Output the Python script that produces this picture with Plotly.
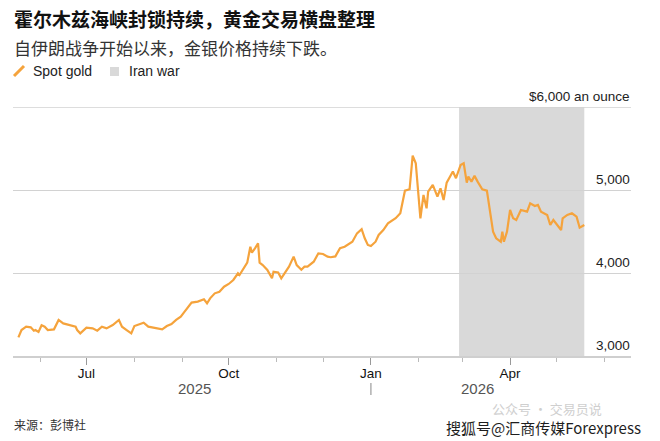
import plotly.graph_objects as go

# ---------------- data ----------------
dates = [
    "2025-05-18", "2025-05-20", "2025-05-23", "2025-05-26", "2025-05-28", "2025-05-29", "2025-05-31",
    "2025-06-02", "2025-06-04", "2025-06-06", "2025-06-10", "2025-06-13", "2025-06-16", "2025-06-20",
    "2025-06-24", "2025-06-25", "2025-06-27", "2025-07-01", "2025-07-05", "2025-07-08", "2025-07-11",
    "2025-07-14", "2025-07-18", "2025-07-22", "2025-07-24", "2025-07-27", "2025-07-30", "2025-08-01",
    "2025-08-05", "2025-08-07", "2025-08-10", "2025-08-13", "2025-08-16", "2025-08-19", "2025-08-22",
    "2025-08-25", "2025-08-28", "2025-08-31", "2025-09-02", "2025-09-04", "2025-09-07", "2025-09-11",
    "2025-09-15", "2025-09-17", "2025-09-19", "2025-09-22", "2025-09-25", "2025-09-28", "2025-10-01",
    "2025-10-04", "2025-10-07", "2025-10-08", "2025-10-10", "2025-10-13", "2025-10-15", "2025-10-16",
    "2025-10-18", "2025-10-20", "2025-10-21", "2025-10-23", "2025-10-26", "2025-10-29", "2025-10-30",
    "2025-11-02", "2025-11-04", "2025-11-06", "2025-11-09", "2025-11-12", "2025-11-14", "2025-11-17",
    "2025-11-19", "2025-11-21", "2025-11-25", "2025-11-28", "2025-12-01", "2025-12-04", "2025-12-06",
    "2025-12-09", "2025-12-12", "2025-12-15", "2025-12-17", "2025-12-20", "2025-12-23", "2025-12-26",
    "2025-12-28", "2025-12-30", "2026-01-01", "2026-01-04", "2026-01-06", "2026-01-09", "2026-01-12",
    "2026-01-14", "2026-01-17", "2026-01-20", "2026-01-23", "2026-01-26", "2026-01-28", "2026-01-30",
    "2026-02-01", "2026-02-02", "2026-02-04", "2026-02-06", "2026-02-07", "2026-02-10", "2026-02-13",
    "2026-02-15", "2026-02-17", "2026-02-19", "2026-02-23", "2026-02-25", "2026-02-28", "2026-03-02",
    "2026-03-04", "2026-03-05", "2026-03-07", "2026-03-09", "2026-03-11", "2026-03-14", "2026-03-17",
    "2026-03-19", "2026-03-21", "2026-03-23", "2026-03-26", "2026-03-27", "2026-03-28", "2026-03-30",
    "2026-04-01", "2026-04-03", "2026-04-05", "2026-04-08", "2026-04-12", "2026-04-14", "2026-04-17",
    "2026-04-19", "2026-04-21", "2026-04-25", "2026-04-27", "2026-04-29", "2026-05-02", "2026-05-04",
    "2026-05-05", "2026-05-08", "2026-05-11", "2026-05-14", "2026-05-16", "2026-05-18", "2026-05-19",
]
spot_gold = [
    3225, 3313, 3353, 3345, 3305, 3313, 3289,
    3370, 3353, 3313, 3321, 3434, 3393, 3373,
    3353, 3313, 3273, 3341, 3333, 3305, 3353,
    3333, 3373, 3434, 3353, 3313, 3273, 3361,
    3385, 3401, 3353, 3345, 3337, 3321, 3361,
    3385, 3434, 3474, 3522, 3575, 3643, 3655,
    3683, 3635, 3695, 3755, 3775, 3835, 3868,
    3916, 3996, 3976, 4036, 4124, 4317, 4245,
    4297, 4358, 4124, 4096, 4036, 3936, 4016,
    4006, 3936, 3988, 4076, 4197, 4096, 4040,
    4076, 4076, 4136, 4237, 4229, 4197, 4190,
    4200, 4298, 4317, 4338, 4377, 4478, 4527,
    4418, 4338, 4325, 4377, 4458, 4518, 4598,
    4619, 4660, 4720, 4992, 5009, 5415, 5322,
    4880, 4659, 4940, 4779, 4980, 5061, 4920,
    5021, 4880, 5089, 5222, 5142, 5302, 5322,
    5089, 5162, 5101, 5170, 5101, 5009, 4992,
    4740, 4498, 4418, 4377, 4498, 4377, 4498,
    4759, 4659, 4639, 4759, 4739, 4840, 4808,
    4820, 4739, 4699, 4579, 4639, 4567, 4518,
    4659, 4699, 4720, 4679, 4546, 4567, 4579,
]
war_start = "2026-02-27"
war_end = "2026-05-19"

x_tick_vals = ["2025-07-01", "2025-10-01", "2026-01-01", "2026-04-01"]
x_tick_text = ["Jul", "Oct", "Jan", "Apr"]
y_tick_vals = [3000, 4000, 5000, 6000]
y_tick_text = ["3,000", "4,000", "5,000", "$6,000 an ounce"]
year_labels = ["2025", "2026"]
year_label_x = ["2025-09-09", "2026-03-11"]
year_break = "2026-01-01"

title = "霍尔木兹海峡封锁持续，黄金交易横盘整理"
subtitle = "自伊朗战争开始以来，金银价格持续下跌。"
legend_names = ["Spot gold", "Iran war"]
source = "来源：彭博社"

# ---------------- style ----------------
W, H = 660, 441
L, R, T, B = 13, 29, 107, 85
PW, PH = W - L - R, H - T - B
GOLD = "#F5A33C"
GREY_BOX = "#d9d9d9"
GRID = "#d2d2d2"
FONT = "Liberation Sans, Arial, Noto Sans CJK SC, sans-serif"
CJK = "Noto Sans CJK SC, Liberation Sans, sans-serif"


def px(xp):
    return (xp - L) / PW


def py(yp):
    return (H - B - yp) / PH


fig = go.Figure()
fig.add_trace(go.Scatter(
    x=dates, y=spot_gold, mode="lines", name=legend_names[0],
    line=dict(color=GOLD, width=2.2), showlegend=False, hoverinfo="x+y",
))

shapes = [
    dict(type="rect", xref="x", yref="paper", x0=war_start, x1=war_end, y0=0, y1=1,
         fillcolor=GREY_BOX, line=dict(width=0), layer="below"),
    # top gridline (edge of the plot area)
    dict(type="line", xref="paper", yref="y", x0=0, x1=1, y0=y_tick_vals[-1], y1=y_tick_vals[-1],
         line=dict(color=GRID, width=1.5), layer="below"),
    # legend icons
    dict(type="line", xref="paper", yref="paper", x0=px(14), y0=py(76), x1=px(24), y1=py(66),
         line=dict(color=GOLD, width=3)),
    dict(type="rect", xref="paper", yref="paper", x0=px(110), x1=px(119), y0=py(76), y1=py(67),
         fillcolor=GREY_BOX, line=dict(width=0)),
    # year separator
    dict(type="line", xref="x", yref="paper", x0=year_break, x1=year_break, y0=py(383), y1=py(395),
         line=dict(color="#888", width=1)),
]

annotations = [
    dict(text="<b>" + title + "</b>", x=px(12), y=py(18), font=dict(size=19, color="#111", family=CJK)),
    dict(text=subtitle, x=px(12), y=py(48), font=dict(size=17, color="#333", family=CJK)),
    dict(text=legend_names[0], x=px(31), y=py(71), font=dict(size=14, color="#222", family=FONT)),
    dict(text=legend_names[1], x=px(127), y=py(71), font=dict(size=14, color="#222", family=FONT)),
    dict(text=source, x=px(12), y=py(424), font=dict(size=12, color="#333", family=CJK)),
    dict(text="公众号 · 交易员说", x=px(490), y=py(408), font=dict(size=13, color="#cfcfcf", family=CJK)),
    dict(text="搜狐号@汇商传媒Forexpress", x=px(444), y=py(427), font=dict(size=15, color="#1e1e1e", family=CJK)),
]
for a in annotations:
    a.update(xref="paper", yref="paper", xanchor="left", yanchor="middle", showarrow=False)

# y-axis labels sit above their gridlines, right-aligned at the plot edge
for val, txt in zip(y_tick_vals, y_tick_text):
    annotations.append(dict(text=txt, x=1, xref="paper", y=val, yref="y", showarrow=False,
                            xanchor="right", yanchor="bottom", yshift=2, borderpad=0,
                            font=dict(size=13.5, color="#222", family=FONT)))

for lbl, xv in zip(year_labels, year_label_x):
    annotations.append(dict(text=lbl, x=xv, xref="x", y=py(388), yref="paper", showarrow=False,
                            xanchor="center", yanchor="middle",
                            font=dict(size=15, color="#555", family=FONT)))

fig.update_layout(
    width=W, height=H, autosize=False,
    margin=dict(l=L, r=R, t=T, b=B, pad=0),
    paper_bgcolor="white", plot_bgcolor="white",
    font=dict(family=FONT, color="#222"),
    shapes=shapes, annotations=annotations,
    showlegend=False,
    xaxis=dict(
        type="date", range=["2025-05-14 12:00", "2026-06-18 05:00"],
        tickmode="array", tickvals=x_tick_vals, ticktext=x_tick_text,
        ticks="outside", ticklen=7, tickcolor="#999", tickwidth=1,
        ticklabelstandoff=-3,
        showgrid=False, zeroline=False,
        showline=True, linecolor="#cfcfcf", linewidth=2,
        tickfont=dict(size=13.5, color="#111", family=FONT),
        minor=dict(ticks="outside", ticklen=4, tickcolor="#bbb", tickwidth=1,
                   dtick="M1", tick0="2025-06-01", showgrid=False),
        fixedrange=True,
    ),
    yaxis=dict(
        range=[3000, 6000], side="right",
        tickmode="array", tickvals=y_tick_vals, showticklabels=False, ticks="",
        showgrid=True, gridcolor=GRID, gridwidth=1,
        zeroline=False, showline=False,
        fixedrange=True,
    ),
)

fig.write_html("out.html")
